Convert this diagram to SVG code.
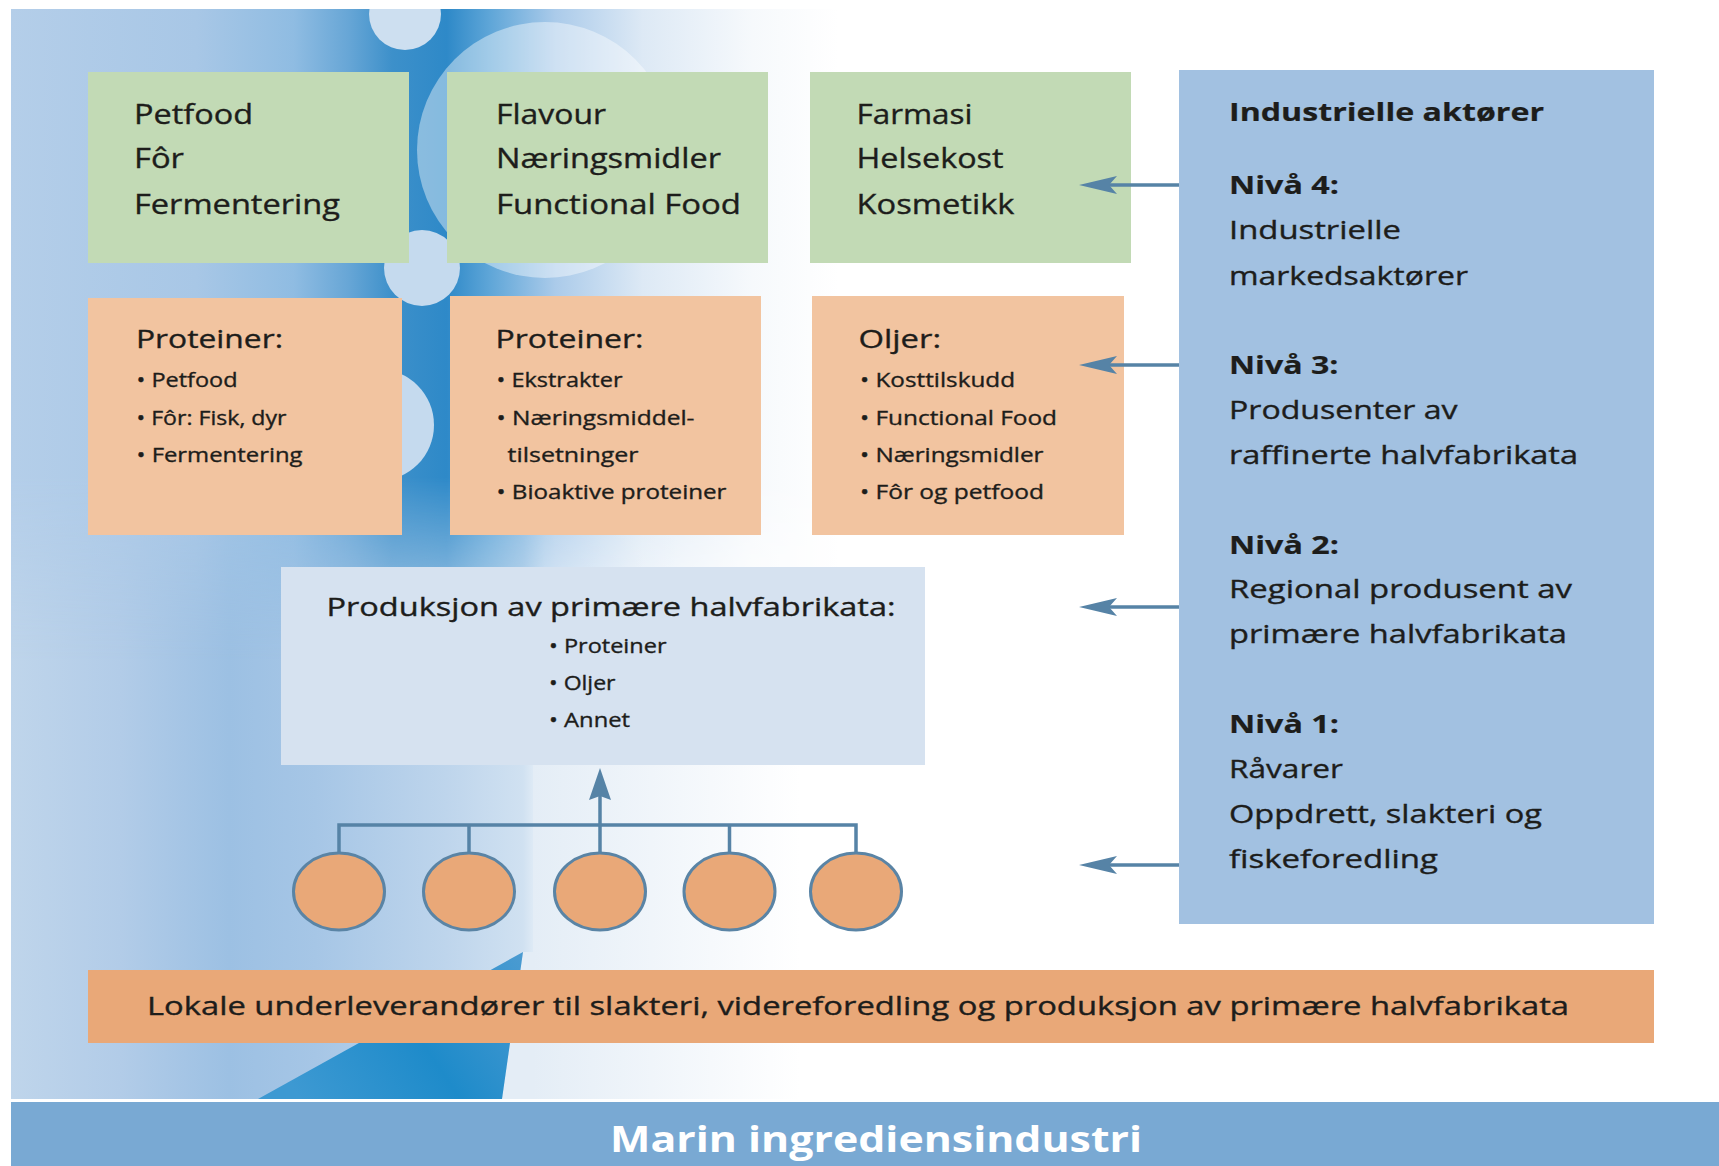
<svg xmlns="http://www.w3.org/2000/svg" width="1719" height="1166" viewBox="0 0 1719 1166">
<style>
.t{font-family:"Open Sans","Liberation Sans",sans-serif;fill:#1d1d1b;stroke:#1d1d1b;stroke-width:0.35}
.g{font-size:27px}
.h{font-size:25px}
.b{font-size:20px}
.bd{font-weight:bold;stroke-width:0.2}
.title{font-family:"Open Sans","Liberation Sans",sans-serif;font-size:36px;font-weight:bold;fill:#ffffff}
.green{fill:#c2dab5}
.orange{fill:#f2c4a0}
.con{stroke:#5683a6;stroke-width:3.5;fill:none}
.circ{fill:#e9a878;stroke:#5a84a5;stroke-width:3}
</style>
<defs>
<linearGradient id="bgLow" gradientUnits="userSpaceOnUse" x1="11" y1="0" x2="1100" y2="0">
<stop offset="0" stop-color="#bfd5eb"/>
<stop offset="0.1" stop-color="#b2cce8"/>
<stop offset="0.2" stop-color="#9cc0e3"/>
<stop offset="0.28" stop-color="#a6c6e6"/>
<stop offset="0.4" stop-color="#bed5ec"/>
<stop offset="0.47" stop-color="#d0e1f1"/>
<stop offset="0.49" stop-color="#eef4fa"/>
<stop offset="0.62" stop-color="#ffffff"/>
</linearGradient>
<linearGradient id="bgBand" gradientUnits="userSpaceOnUse" x1="11" y1="0" x2="1100" y2="0">
<stop offset="0" stop-color="#b4cee9"/>
<stop offset="0.17" stop-color="#a8c7e6"/>
<stop offset="0.26" stop-color="#8fbce2"/>
<stop offset="0.31" stop-color="#67a6d6"/>
<stop offset="0.35" stop-color="#3d90ca"/>
<stop offset="0.40" stop-color="#2e89c8"/>
<stop offset="0.44" stop-color="#5fa6d8"/>
<stop offset="0.50" stop-color="#abcbea"/>
<stop offset="0.58" stop-color="#dde9f5"/>
<stop offset="0.68" stop-color="#f6f9fc"/>
<stop offset="0.76" stop-color="#ffffff"/>
</linearGradient>
<linearGradient id="vfade" gradientUnits="userSpaceOnUse" x1="0" y1="9" x2="0" y2="660">
<stop offset="0" stop-color="#fff"/>
<stop offset="0.72" stop-color="#fff"/>
<stop offset="1" stop-color="#000"/>
</linearGradient>
<mask id="bandMask"><rect x="0" y="0" width="1719" height="700" fill="url(#vfade)"/></mask>
<linearGradient id="wedge" gradientUnits="userSpaceOnUse" x1="300" y1="1099" x2="520" y2="950">
<stop offset="0" stop-color="#3d99d2"/>
<stop offset="0.5" stop-color="#1e8bca"/>
<stop offset="1" stop-color="#4b9bd1"/>
</linearGradient>
<linearGradient id="whiteLow" gradientUnits="userSpaceOnUse" x1="533" y1="0" x2="800" y2="0">
<stop offset="0" stop-color="#e4edf6"/>
<stop offset="1" stop-color="#ffffff"/>
</linearGradient>
<marker id="ahSide" viewBox="0 0 38 18" markerWidth="38" markerHeight="18" refX="27" refY="9" orient="auto" markerUnits="userSpaceOnUse">
<path d="M38,9 L0,0 L8,9 L0,18 Z" fill="#5683a6"/>
</marker>
<marker id="ahUp" viewBox="0 0 32 22" markerWidth="32" markerHeight="22" refX="10" refY="11" orient="auto" markerUnits="userSpaceOnUse">
<path d="M32,11 L0,0 L4,11 L0,22 Z" fill="#5683a6"/>
</marker>
</defs>

<g id="background">
<rect x="0" y="0" width="1719" height="1166" fill="#ffffff"/>
<rect x="11" y="9" width="1708" height="1090" fill="url(#bgLow)"/>
<rect x="11" y="9" width="1708" height="690" fill="url(#bgBand)" mask="url(#bandMask)"/>
<circle cx="405" cy="14" r="36" fill="#cddff0"/>
<circle cx="545" cy="150" r="128" fill="#ffffff" opacity="0.42"/>
<circle cx="422" cy="268" r="38" fill="#c5daee"/>
<circle cx="378" cy="425" r="56" fill="#c5daee"/>
<polygon points="533,765 1100,765 1100,1099 502,1099 523,952 533,952" fill="url(#whiteLow)"/>
<polygon points="258,1099 523,952 502,1099" fill="url(#wedge)"/>
<polygon points="1100,9 1719,9 1719,1099 1100,1099" fill="#ffffff"/>
<rect x="0" y="0" width="1719" height="9" fill="#ffffff"/>
<rect x="0" y="0" width="11" height="1166" fill="#ffffff"/>
</g>

<g id="node-petfood">
<rect class="green" x="88" y="72" width="321" height="191"/>
<text class="t g" x="134" y="123.5" textLength="119" lengthAdjust="spacingAndGlyphs">Petfood</text>
<text class="t g" x="134" y="168" textLength="50" lengthAdjust="spacingAndGlyphs">Fôr</text>
<text class="t g" x="134" y="213.5" textLength="206" lengthAdjust="spacingAndGlyphs">Fermentering</text>
</g>
<g id="node-flavour">
<rect class="green" x="447" y="72" width="321" height="191"/>
<text class="t g" x="496" y="123.5" textLength="110" lengthAdjust="spacingAndGlyphs">Flavour</text>
<text class="t g" x="496" y="168" textLength="225" lengthAdjust="spacingAndGlyphs">Næringsmidler</text>
<text class="t g" x="496" y="213.5" textLength="245" lengthAdjust="spacingAndGlyphs">Functional Food</text>
</g>
<g id="node-farmasi">
<rect class="green" x="810" y="72" width="321" height="191"/>
<text class="t g" x="856.5" y="123.5" textLength="116" lengthAdjust="spacingAndGlyphs">Farmasi</text>
<text class="t g" x="856.5" y="168" textLength="147" lengthAdjust="spacingAndGlyphs">Helsekost</text>
<text class="t g" x="856.5" y="213.5" textLength="158" lengthAdjust="spacingAndGlyphs">Kosmetikk</text>
</g>

<g id="node-proteiner-1">
<rect class="orange" x="88" y="298" width="314" height="237"/>
<text class="t h" x="136" y="348" textLength="147" lengthAdjust="spacingAndGlyphs">Proteiner:</text>
<text class="t b" x="136.5" y="387" textLength="101" lengthAdjust="spacingAndGlyphs">• Petfood</text>
<text class="t b" x="136.5" y="424.5" textLength="150" lengthAdjust="spacingAndGlyphs">• Fôr: Fisk, dyr</text>
<text class="t b" x="136.5" y="461.5" textLength="166" lengthAdjust="spacingAndGlyphs">• Fermentering</text>
</g>
<g id="node-proteiner-2">
<rect class="orange" x="450" y="296" width="311" height="239"/>
<text class="t h" x="495.5" y="348" textLength="148" lengthAdjust="spacingAndGlyphs">Proteiner:</text>
<text class="t b" x="496.5" y="387" textLength="126" lengthAdjust="spacingAndGlyphs">• Ekstrakter</text>
<text class="t b" x="496.5" y="424.5" textLength="198" lengthAdjust="spacingAndGlyphs">• Næringsmiddel-</text>
<text class="t b" x="507.5" y="461.5" textLength="131" lengthAdjust="spacingAndGlyphs">tilsetninger</text>
<text class="t b" x="496.5" y="499" textLength="230" lengthAdjust="spacingAndGlyphs">• Bioaktive proteiner</text>
</g>
<g id="node-oljer">
<rect class="orange" x="812" y="296" width="312" height="239"/>
<text class="t h" x="858.5" y="348" textLength="82.5" lengthAdjust="spacingAndGlyphs">Oljer:</text>
<text class="t b" x="860" y="387" textLength="155" lengthAdjust="spacingAndGlyphs">• Kosttilskudd</text>
<text class="t b" x="860" y="424.5" textLength="197" lengthAdjust="spacingAndGlyphs">• Functional Food</text>
<text class="t b" x="860" y="461.5" textLength="183.5" lengthAdjust="spacingAndGlyphs">• Næringsmidler</text>
<text class="t b" x="860" y="499" textLength="184" lengthAdjust="spacingAndGlyphs">• Fôr og petfood</text>
</g>

<g id="node-produksjon">
<rect x="281" y="567" width="644" height="198" fill="#d6e2f0"/>
<text class="t h" x="326.5" y="615.5" textLength="569" lengthAdjust="spacingAndGlyphs">Produksjon av primære halvfabrikata:</text>
<text class="t b" x="549" y="653" textLength="117.5" lengthAdjust="spacingAndGlyphs">• Proteiner</text>
<text class="t b" x="549" y="689.5" textLength="66.5" lengthAdjust="spacingAndGlyphs">• Oljer</text>
<text class="t b" x="549" y="726.5" textLength="81" lengthAdjust="spacingAndGlyphs">• Annet</text>
</g>

<g id="node-industrielle-aktorer">
<rect x="1179" y="70" width="475" height="854" fill="#a2c1e1"/>
<text class="t h bd" x="1229" y="121" textLength="315" lengthAdjust="spacingAndGlyphs">Industrielle aktører</text>
<text class="t h bd" x="1229" y="194" textLength="110" lengthAdjust="spacingAndGlyphs">Nivå 4:</text>
<text class="t h" x="1229" y="238.6" textLength="172" lengthAdjust="spacingAndGlyphs">Industrielle</text>
<text class="t h" x="1229" y="284.5" textLength="239" lengthAdjust="spacingAndGlyphs">markedsaktører</text>
<text class="t h bd" x="1229" y="374" textLength="109.5" lengthAdjust="spacingAndGlyphs">Nivå 3:</text>
<text class="t h" x="1229" y="419" textLength="228.5" lengthAdjust="spacingAndGlyphs">Produsenter av</text>
<text class="t h" x="1229" y="464" textLength="349" lengthAdjust="spacingAndGlyphs">raffinerte halvfabrikata</text>
<text class="t h bd" x="1229" y="554" textLength="110" lengthAdjust="spacingAndGlyphs">Nivå 2:</text>
<text class="t h" x="1229" y="598" textLength="343" lengthAdjust="spacingAndGlyphs">Regional produsent av</text>
<text class="t h" x="1229" y="643" textLength="338" lengthAdjust="spacingAndGlyphs">primære halvfabrikata</text>
<text class="t h bd" x="1229" y="733" textLength="110" lengthAdjust="spacingAndGlyphs">Nivå 1:</text>
<text class="t h" x="1229" y="778" textLength="114" lengthAdjust="spacingAndGlyphs">Råvarer</text>
<text class="t h" x="1229" y="823" textLength="313" lengthAdjust="spacingAndGlyphs">Oppdrett, slakteri og</text>
<text class="t h" x="1229" y="868" textLength="209" lengthAdjust="spacingAndGlyphs">fiskeforedling</text>
</g>

<g id="node-suppliers">
<ellipse class="circ" cx="339" cy="891.5" rx="45.5" ry="38.5"/>
<ellipse class="circ" cx="469" cy="891.5" rx="45.5" ry="38.5"/>
<ellipse class="circ" cx="600" cy="891.5" rx="45.5" ry="38.5"/>
<ellipse class="circ" cx="729.5" cy="891.5" rx="45.5" ry="38.5"/>
<ellipse class="circ" cx="856" cy="891.5" rx="45.5" ry="38.5"/>
</g>

<g id="node-lokale">
<rect x="88" y="970" width="1566" height="73" fill="#e9a878"/>
<text class="t h" x="147" y="1015" textLength="1422" lengthAdjust="spacingAndGlyphs">Lokale underleverandører til slakteri, videreforedling og produksjon av primære halvfabrikata</text>
</g>

<g id="node-marin">
<rect x="11" y="1102" width="1708" height="64" fill="#79a9d3"/>
<text class="title" x="610" y="1152" textLength="532" lengthAdjust="spacingAndGlyphs">Marin ingrediensindustri</text>
</g>

<g id="connectors">
<path class="con" d="M339,853 V825 H856 V853 M469,825 V853 M729.5,825 V853"/>
<path class="con" d="M600,853 V790" marker-end="url(#ahUp)"/>
<path class="con" d="M1179,185 H1090" marker-end="url(#ahSide)"/>
<path class="con" d="M1179,365 H1090" marker-end="url(#ahSide)"/>
<path class="con" d="M1179,607 H1090" marker-end="url(#ahSide)"/>
<path class="con" d="M1179,865 H1090" marker-end="url(#ahSide)"/>
</g>
</svg>
